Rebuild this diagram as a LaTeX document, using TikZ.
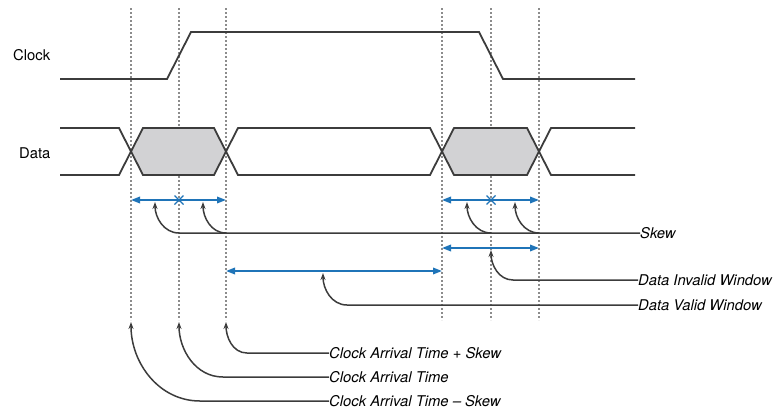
\documentclass[tikz,border=0pt]{standalone}
\usepackage{fontspec}
\setmainfont{TeX Gyre Heros}
\usepackage{tikz}
\usetikzlibrary{arrows.meta}
\definecolor{sigdark}{HTML}{3C3C3C}
\definecolor{gridgray}{HTML}{8C8C8C}
\definecolor{measblue}{HTML}{1F74B8}
\definecolor{invalidgray}{HTML}{D2D2D4}
\tikzset{
  sigline/.style={draw=sigdark,line width=1.8pt,line join=miter},
  gridline/.style={draw=gridgray,line width=1.1pt,dash pattern=on 2pt off 2pt},
  measure/.style={<->,>={Triangle[length=9pt,width=6.5pt]},measblue,line width=1.8pt},
  crossmark/.style={measblue,line width=1.3pt},
  pointer/.style={<-,>={Stealth[length=7pt,width=5pt]},sigdark,line width=1.5pt},
  siglbl/.style={anchor=west,inner sep=0pt,font=\fontsize{14.8}{17}\selectfont},
  taglbl/.style={siglbl,font=\fontsize{14.8}{17}\selectfont\itshape},
}

\begin{document}
\begin{tikzpicture}[x=1pt,y=1pt]
  \useasboundingbox (0,0) rectangle (778,-410);
  % time marks
  \coordinate (tA) at (131,-8);
  \coordinate (tB) at (179,-8);
  \coordinate (tC) at (226,-8);
  \coordinate (tD) at (442,-8);
  \coordinate (tE) at (491,-8);
  \coordinate (tF) at (539,-8);
  \foreach \t in {tA,tB,tC,tD,tE,tF}
    \draw[gridline] (\t) -- (\t |- 0,-320);

  % signal names
  \node[siglbl] (clk) at (13,-55) {Clock};
  \node[siglbl] (dat) at (19,-153) {Data};

  % clock
  \draw[sigline] (60,-79) -- (167,-79) -- (191,-32) -- (479,-32) -- (503,-79) -- (635,-79);

  % data
  \fill[invalidgray] (131,-151.5) -- (143,-128) -- (214,-128) -- (226,-151.5) -- (214,-175) -- (143,-175) -- cycle;
  \fill[invalidgray] (442,-151.5) -- (454,-128) -- (527,-128) -- (539,-151.5) -- (527,-175) -- (454,-175) -- cycle;
  \draw[sigline] (60,-128) -- (119,-128) -- (143,-175) -- (214,-175) -- (238,-128) -- (430,-128)
    -- (454,-175) -- (527,-175) -- (551,-128) -- (635,-128);
  \draw[sigline] (60,-175) -- (119,-175) -- (143,-128) -- (214,-128) -- (238,-175) -- (430,-175)
    -- (454,-128) -- (527,-128) -- (551,-175) -- (635,-175);

  % measurements
  \draw[measure] (tA |- 0,-200) -- (tC |- 0,-200);
  \draw[measure] (tD |- 0,-200) -- (tF |- 0,-200);
  \draw[measure] (tD |- 0,-248) -- (tF |- 0,-248);
  \draw[measure] (tC |- 0,-271) -- (tD |- 0,-271);
  \foreach \t in {tB,tE}
    \draw[crossmark] (\t |- 0,-200) +(-4.5,-4.5) -- +(4.5,4.5) +(-4.5,4.5) -- +(4.5,-4.5);

  % annotations
  \node[taglbl] (lskew) at (640,-233) {Skew};
  \node[taglbl] (linv) at (638,-280) {Data Invalid Window};
  \node[taglbl] (lval) at (638,-305) {Data Valid Window};
  \node[taglbl] (lcps) at (329,-353) {Clock Arrival Time + Skew};
  \node[taglbl] (lcat) at (329,-377) {Clock Arrival Time};
  \node[taglbl] (lcms) at (329,-401) {Clock Arrival Time \textendash{} Skew};

  \coordinate (pS1) at (155,-202);
  \coordinate (pS2) at (203,-202);
  \coordinate (pS3) at (467,-202);
  \coordinate (pS4) at (515,-202);
  \coordinate (pInv) at (491,-250);
  \coordinate (pVal) at (323,-273);

  \draw[pointer] (pS1) to[out=-90,in=180] (tB |- 0,-233) -- (lskew.west);
  \draw[pointer] (pS2) to[out=-90,in=180] (tC |- 0,-233);
  \draw[pointer] (pS3) to[out=-90,in=180] (tE |- 0,-233);
  \draw[pointer] (pS4) to[out=-90,in=180] (tF |- 0,-233);
  \draw[pointer] (pInv) to[out=-90,in=180] (513,-280) -- (linv.west);
  \draw[pointer] (pVal) to[out=-90,in=180] (347,-305) -- (lval.west);
  \draw[pointer] (tC |- 0,-322) to[out=-90,in=180] (247,-353) -- (lcps.west);
  \draw[pointer] (tB |- 0,-322) to[out=-90,in=180] (223,-377) -- (lcat.west);
  \draw[pointer] (tA |- 0,-322) to[out=-90,in=180] (200,-401) -- (lcms.west);
\end{tikzpicture}
\end{document}
